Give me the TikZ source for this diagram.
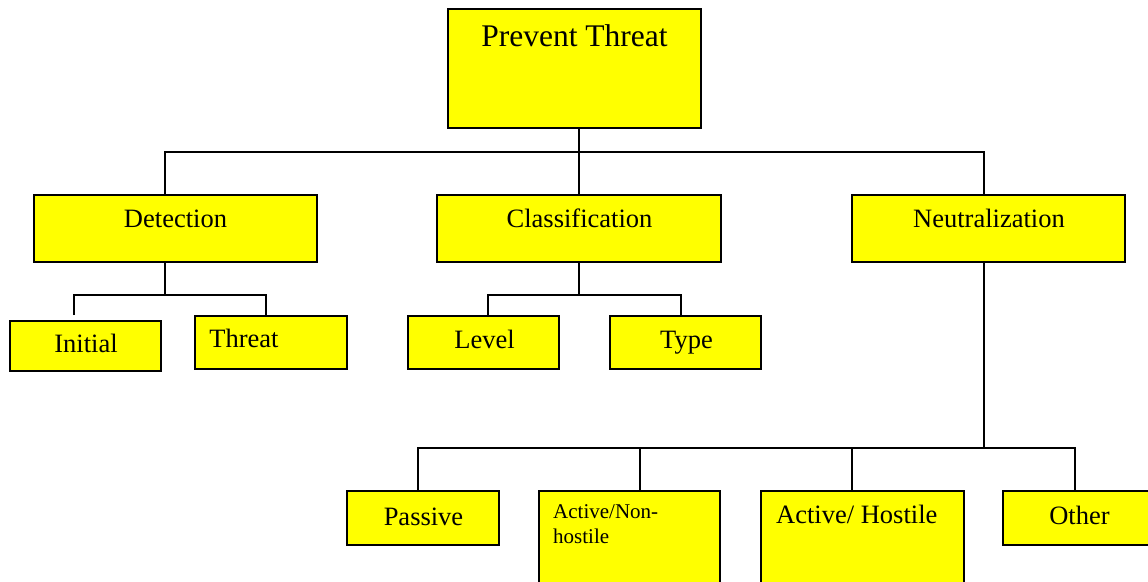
\documentclass[tikz,border=0pt]{standalone}
\usepackage{fontspec}
\setmainfont{Liberation Serif}
\usetikzlibrary{calc}
\definecolor{boxyellow}{RGB}{255,255,0}

\begin{document}
\begin{tikzpicture}[
  x=1pt,y=-1pt,
  box/.style={draw=black,fill=boxyellow,line width=1.6pt,inner sep=0pt},
  link/.style={draw=black,line width=1.5pt},
  lbl/.style={anchor=base,inner sep=0pt,font=\fontsize{26.5}{30}\selectfont},
  bigl/.style={lbl,font=\fontsize{31.5}{36}\selectfont},
  smalll/.style={anchor=base west,inner sep=0pt,font=\fontsize{21}{25}\selectfont}
]
\useasboundingbox (0,0) rectangle (1148,581);
% Top
\node[box,minimum width=253,minimum height=119] (PT) at (574.5,68.5) {};
% Second level
\node[box,minimum width=283,minimum height=67] (Det) at (175.5,228.5) {};
\node[box,minimum width=284,minimum height=67] (Cls) at (579,228.5) {};
\node[box,minimum width=273,minimum height=67] (Neu) at (988.5,228.5) {};
% Third level
\node[box,minimum width=151,minimum height=50] (Ini) at (85.5,346) {};
\node[box,minimum width=152,minimum height=53] (Thr) at (271,342.5) {};
\node[box,minimum width=151,minimum height=53] (Lev) at (483.5,342.5) {};
\node[box,minimum width=151,minimum height=53] (Typ) at (685.5,342.5) {};
% Bottom row
\node[box,minimum width=152,minimum height=54] (Pas) at (423,518) {};
\node[box,minimum width=181,minimum height=120] (ANH) at (629.5,551) {};
\node[box,minimum width=203,minimum height=120] (AH) at (862.5,551) {};
\node[box,minimum width=162,minimum height=54] (Oth) at (1084,518) {};
% labels
\node[bigl] (PT-t) at (574.5,46) {Prevent Threat};
\node[lbl] (Det-t) at (175.5,227) {Detection};
\node[lbl] (Cls-t) at (579.5,227) {Classification};
\node[lbl] (Neu-t) at (989,227) {Neutralization};
\node[lbl] (Ini-t) at (86,352) {Initial};
\node[lbl] (Thr-t) at (244,347) {Threat};
\node[lbl] (Lev-t) at (484.5,348) {Level};
\node[lbl] (Typ-t) at (686.5,348) {Type};
\node[lbl] (Pas-t) at (423.5,525) {Passive};
\node[smalll] (ANH-t1) at (553,518) {Active/Non-};
\node[smalll] (ANH-t2) at (553,543) {hostile};
\node[lbl,anchor=base west] (AH-t) at (776,523) {Active/ Hostile};
\node[lbl] (Oth-t) at (1079.5,524) {Other};
% connectors
\draw[link] ([xshift=4.5pt]PT.south) -- ++(0,23) coordinate (topbus);
\draw[link] ([xshift=-10.5pt]Det.north) |- (topbus) -| ([xshift=-4.5pt]Neu.north);
\draw[link] (topbus) -- (Cls.north);
\draw[link] ([xshift=-10.5pt]Det.south) -- ++(0,32) coordinate (detbus);
\draw[link] ([xshift=-11.5pt,yshift=5pt]Ini.north) |- (detbus) -| ([xshift=-5pt]Thr.north);
\draw[link] (Cls.south) -- ++(0,32) coordinate (clsbus);
\draw[link] ([xshift=4.5pt]Lev.north) |- (clsbus) -| ([xshift=-4.5pt]Typ.north);
\draw[link] ([xshift=-4.5pt]Neu.south) -- ++(0,185) coordinate (neubus);
\draw[link] ([xshift=-5pt]Pas.north) |- (neubus) -| ([xshift=-9pt]Oth.north);
\draw[link] ([xshift=10.5pt]ANH.north) |- (neubus);
\draw[link] ([xshift=-10.5pt]AH.north) |- (neubus);
\end{tikzpicture}
\end{document}
